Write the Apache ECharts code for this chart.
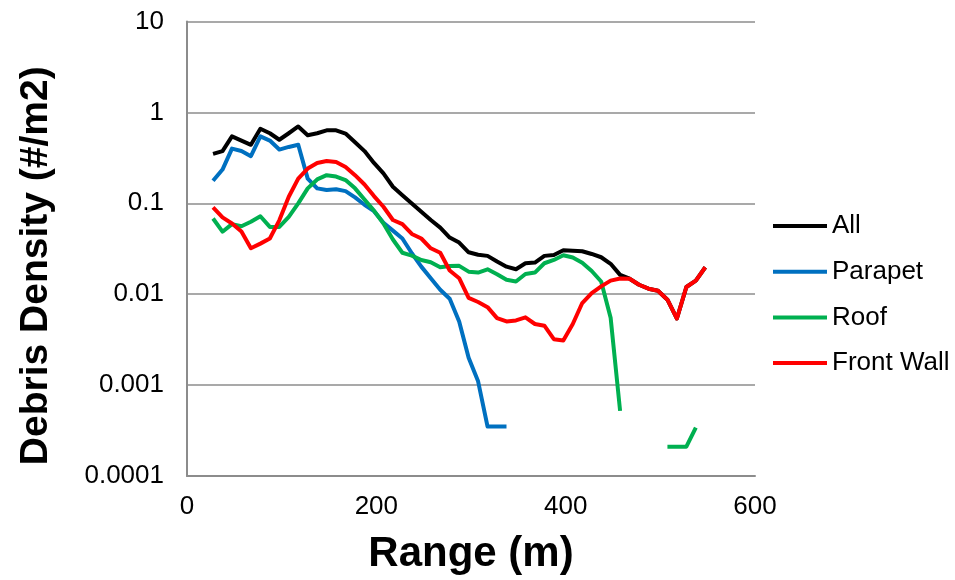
<!DOCTYPE html>
<html>
<head>
<meta charset="utf-8">
<script src="https://cdn.jsdelivr.net/npm/echarts@6/dist/echarts.min.js"></script>
<style>
  html, body { margin: 0; padding: 0; background: #ffffff; }
  #chart { width: 955px; height: 580px; }
</style>
</head>
<body>
<div id="chart"></div>
<script>
// Range bin centres (m)
const ranges = [27.5, 37.5, 47.5, 57.5, 67.5, 77.5, 87.5, 97.5, 107.5, 117.5,
  127.5, 137.5, 147.5, 157.5, 167.5, 177.5, 187.5, 197.5, 207.5, 217.5,
  227.5, 237.5, 247.5, 257.5, 267.5, 277.5, 287.5, 297.5, 307.5, 317.5,
  327.5, 337.5, 347.5, 357.5, 367.5, 377.5, 387.5, 397.5, 407.5, 417.5,
  427.5, 437.5, 447.5, 457.5, 467.5, 477.5, 487.5, 497.5, 507.5, 517.5,
  527.5, 537.5, 547.5];

// Debris density (#/m2) per range bin; null = no debris found
const allDebris = [0.35, 0.375, 0.545, 0.49, 0.44, 0.66, 0.59, 0.50, 0.59, 0.70,
  0.56, 0.59, 0.635, 0.635, 0.585, 0.47, 0.375, 0.278, 0.213, 0.152,
  0.123, 0.0997, 0.0807, 0.0655, 0.054, 0.042, 0.037, 0.0289, 0.0272, 0.0264,
  0.0229, 0.0201, 0.0188, 0.0219, 0.0223, 0.0264, 0.027, 0.0304, 0.030, 0.0297,
  0.0277, 0.0255, 0.0216, 0.0163, 0.0148, 0.0127, 0.0115, 0.0109, 0.0087, 0.0054,
  0.012, 0.0141, 0.0198];

const parapet = [0.177, 0.235, 0.40, 0.376, 0.33, 0.545, 0.49, 0.39, 0.417, 0.44,
  0.187, 0.146, 0.14, 0.143, 0.136, 0.116, 0.0964, 0.082, 0.061, 0.050,
  0.041, 0.0282, 0.0201, 0.015, 0.0112, 0.0089, 0.005, 0.002, 0.0011, 0.00035,
  0.00035, 0.00035, null, null, null, null, null, null, null, null,
  null, null, null, null, null, null, null, null, null, null,
  null, null, null];

const roof = [0.068, 0.0487, 0.059, 0.056, 0.0627, 0.072, 0.055, 0.055, 0.071, 0.0997,
  0.146, 0.183, 0.204, 0.197, 0.18, 0.146, 0.11, 0.083, 0.060, 0.040,
  0.0286, 0.0266, 0.0238, 0.0225, 0.0198, 0.0204, 0.0205, 0.0177, 0.0173, 0.0188,
  0.0166, 0.0144, 0.0138, 0.0167, 0.0173, 0.0219, 0.0238, 0.0268, 0.0253, 0.0222,
  0.018, 0.0138, 0.0055, 0.00052, null, null, null, null, 0.00021, 0.00021,
  0.00021, 0.00034, null];

const frontWall = [0.090, 0.070, 0.060, 0.049, 0.032, 0.036, 0.041, 0.065, 0.118, 0.187,
  0.241, 0.278, 0.292, 0.285, 0.251, 0.204, 0.161, 0.12, 0.0916, 0.0655,
  0.059, 0.046, 0.041, 0.032, 0.0286, 0.0182, 0.015, 0.0091, 0.0082, 0.0072,
  0.00546, 0.00502, 0.00515, 0.00556, 0.0047, 0.0045, 0.0032, 0.0031, 0.0047, 0.008,
  0.0103, 0.0122, 0.0141, 0.0149, 0.0148, 0.0127, 0.0115, 0.0109, 0.0087, 0.0054,
  0.012, 0.0141, 0.0198];

const yTickLabels = ['0.0001', '0.001', '0.01', '0.1', '1', '10'];
const xTickLabels = ['0', '200', '400', '600'];

const seriesDefs = [
  { name: 'All', values: allDebris, color: '#000000' },
  { name: 'Parapet', values: parapet, color: '#0070C0' },
  { name: 'Roof', values: roof, color: '#00B050' },
  { name: 'Front Wall', values: frontWall, color: '#FF0000' }
];

const FONT = "'Liberation Sans', Arial, sans-serif";
const GRID_GREY = '#8c8c8c';

const chart = echarts.init(document.getElementById('chart'), null, { renderer: 'canvas' });

chart.setOption({
  animation: false,
  backgroundColor: '#ffffff',
  grid: { left: 187, right: 200, top: 21.5, bottom: 101, containLabel: false },
  legend: {
    orient: 'vertical',
    left: 768,
    top: 208,
    icon: 'rect',
    itemWidth: 54,
    itemHeight: 4,
    itemGap: 19.7,
    textStyle: { fontFamily: FONT, fontSize: 26, color: '#000000', lineHeight: 26 },
    data: seriesDefs.map(s => s.name)
  },
  xAxis: {
    type: 'value',
    min: 0,
    max: 600,
    interval: 200,
    name: 'Range (m)',
    nameLocation: 'middle',
    nameGap: 57,
    nameTextStyle: { fontFamily: FONT, fontSize: 42, fontWeight: 'bold', color: '#000000' },
    axisLine: { onZero: false, lineStyle: { color: GRID_GREY, width: 2 } },
    axisTick: { show: false },
    splitLine: { show: false },
    axisLabel: {
      fontFamily: FONT, fontSize: 26, color: '#000000', margin: 18,
      formatter: v => xTickLabels[Math.round(v / 200)]
    }
  },
  yAxis: {
    type: 'log',
    logBase: 10,
    min: 0.0001,
    max: 10,
    name: 'Debris Density (#/m2)',
    nameLocation: 'middle',
    nameRotate: 90,
    nameGap: 131,
    nameTextStyle: { fontFamily: FONT, fontSize: 39, fontWeight: 'bold', color: '#000000', padding: [0, 34, 0, 0] },
    axisLine: { show: true, lineStyle: { color: GRID_GREY, width: 2 } },
    axisTick: { show: false },
    splitLine: { show: true, lineStyle: { color: GRID_GREY, width: 1.5 } },
    axisLabel: {
      fontFamily: FONT, fontSize: 26, color: '#000000', margin: 23,
      formatter: v => yTickLabels[Math.round(Math.log10(v)) + 4]
    }
  },
  series: seriesDefs.map(s => ({
    name: s.name,
    type: 'line',
    data: ranges.map((r, i) => [r, s.values[i]]),
    showSymbol: false,
    symbol: 'none',
    connectNulls: false,
    color: s.color,
    lineStyle: { color: s.color, width: 4, join: 'round' },
    itemStyle: { color: s.color }
  }))
});
</script>
</body>
</html>
